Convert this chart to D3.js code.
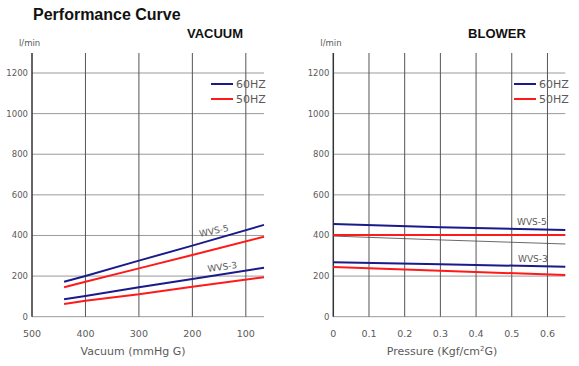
<!DOCTYPE html>
<html><head><meta charset="utf-8">
<script src="https://cdn.jsdelivr.net/npm/d3@7"></script>
<style>
html,body{margin:0;padding:0;background:#fff;}
svg{display:block;}
.cad{font-family:"DejaVu Sans",sans-serif;fill:#5a5a5a;}
</style>
</head><body>
<script>
// ---- data ----
const vacuumTicks = [500, 400, 300, 200, 100];
const pressureTicks = [0, 0.1, 0.2, 0.3, 0.4, 0.5, 0.6];
const flowTicks = [0, 200, 400, 600, 800, 1000, 1200];

const vacuumX = [440, 400, 300, 200, 66];
const vacWVS5_60 = [172, 200, 276, 350, 452];
const vacWVS5_50 = [145, 172, 238, 304, 394];
const vacWVS3_60 = [86, 102, 145, 186, 241];
const vacWVS3_50 = [63, 79, 110, 148, 194];

const pressureX = [0, 0.3, 0.65];
const blowWVS5_60 = [457, 440, 427];
const blowWVS5_50 = [402, 402, 402];
const blowRef = [397, 378, 358];
const blowWVS3_60 = [268, 258, 246];
const blowWVS3_50 = [245, 226, 205];

const legendLabels = ["60HZ", "50HZ"];

const W = 579, H = 366;
const svg = d3.select("body").append("svg").attr("width", W).attr("height", H);
const BLUE = "#1a1a8a", RED = "#ff1a1a";

svg.append("text").attr("x", 33).attr("y", 20)
  .style("font-family", "Liberation Sans, Arial, sans-serif").style("font-weight", "bold")
  .style("font-size", "16px").attr("fill", "#111").text("Performance Curve");

function panel(cfg) {
  const g = svg.append("g");
  const x = d3.scaleLinear().domain(cfg.xDomain).range([cfg.x0, cfg.x1]);
  const y = d3.scaleLinear().domain([0, 1200]).range([316.7, 73]);
  const yTop = 53;

  g.append("text").attr("x", cfg.titleX).attr("y", 38).attr("text-anchor", "middle")
    .style("font-family", "Liberation Sans, Arial, sans-serif").style("font-weight", "bold")
    .style("font-size", "13px").attr("fill", "#111").text(cfg.title);

  g.selectAll(".hg").data(flowTicks).enter().append("line")
    .attr("x1", cfg.x0).attr("x2", cfg.x1)
    .attr("y1", d => y(d)).attr("y2", d => y(d))
    .attr("stroke", "#9a9a9a").attr("stroke-width", 1);

  g.selectAll(".vg").data(cfg.ticks).enter().append("line")
    .attr("x1", d => x(d)).attr("x2", d => x(d))
    .attr("y1", yTop).attr("y2", y(0))
    .attr("stroke", d => d === cfg.xDomain[0] ? "#333" : "#555")
    .attr("stroke-width", d => d === cfg.xDomain[0] ? 1.5 : 1);

  g.selectAll(".yl").data(flowTicks).enter().append("text").attr("class", "cad")
    .attr("x", cfg.x0 - 4).attr("y", d => y(d) + 3).attr("text-anchor", "end")
    .style("font-size", "8.5px").text(d => d);
  g.append("text").attr("class", "cad").attr("x", cfg.x0 - 13).attr("y", 46)
    .style("font-size", "8.5px").text("l/min");

  g.selectAll(".xl").data(cfg.ticks).enter().append("text").attr("class", "cad")
    .attr("x", d => x(d)).attr("y", 337).attr("text-anchor", "middle")
    .style("font-size", "9.5px").text(cfg.fmt);

  const t = g.append("text").attr("class", "cad").attr("x", cfg.axisTitleX).attr("y", 355)
    .attr("text-anchor", "middle").style("font-size", "11px");
  t.text(cfg.axisTitle);
  if (cfg.sup) {
    t.text(null);
    t.append("tspan").text("Pressure (Kgf/cm");
    t.append("tspan").attr("dy", -4).style("font-size", "7px").text("2");
    t.append("tspan").attr("dy", 4).text("G)");
  }

  const line = d3.line().x((d, i) => x(cfg.xs[i])).y(d => y(d));
  cfg.series.forEach(s => {
    g.append("path").datum(s.v).attr("d", line).attr("fill", "none")
      .attr("stroke", s.c).attr("stroke-width", s.w);
  });

  cfg.labels.forEach(l => {
    g.append("text").attr("class", "cad")
      .attr("transform", `translate(${l.x},${l.y}) rotate(${l.r})`)
      .style("font-size", "9px").text(l.t);
  });

  [BLUE, RED].forEach((c, i) => {
    const ly = 84 + i * 15;
    g.append("line").attr("x1", cfg.legX).attr("x2", cfg.legX + 22)
      .attr("y1", ly).attr("y2", ly).attr("stroke", c).attr("stroke-width", 2);
    g.append("text").attr("class", "cad").attr("x", cfg.legX + 25).attr("y", ly + 4)
      .style("font-size", "11px").text(legendLabels[i]);
  });
}

panel({
  title: "VACUUM", titleX: 215,
  xDomain: [500, 66], x0: 32, x1: 264,
  ticks: vacuumTicks, fmt: d => d,
  axisTitle: "Vacuum (mmHg G)", axisTitleX: 133,
  xs: vacuumX,
  series: [
    {v: vacWVS5_60, c: BLUE, w: 2},
    {v: vacWVS5_50, c: RED, w: 2},
    {v: vacWVS3_60, c: BLUE, w: 2},
    {v: vacWVS3_50, c: RED, w: 2}
  ],
  labels: [
    {t: "WVS-5", x: 200, y: 237, r: -12},
    {t: "WVS-3", x: 208, y: 272, r: -8}
  ],
  legX: 211
});

panel({
  title: "BLOWER", titleX: 497,
  xDomain: [0, 0.65], x0: 333.3, x1: 565.3,
  ticks: pressureTicks, fmt: d => d,
  axisTitle: "Pressure (Kgf/cm2G)", axisTitleX: 442, sup: true,
  xs: pressureX,
  series: [
    {v: blowRef, c: "#444", w: 0.8},
    {v: blowWVS5_60, c: BLUE, w: 2},
    {v: blowWVS5_50, c: RED, w: 2},
    {v: blowWVS3_60, c: BLUE, w: 2},
    {v: blowWVS3_50, c: RED, w: 2}
  ],
  labels: [
    {t: "WVS-5", x: 517, y: 225, r: 0},
    {t: "WVS-3", x: 518, y: 262, r: 0}
  ],
  legX: 514
});
</script>
</body></html>
